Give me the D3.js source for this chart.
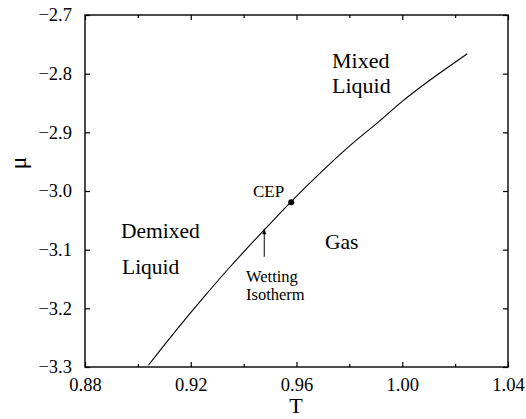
<!DOCTYPE html>
<html>
<head>
<meta charset="utf-8">
<script src="https://cdn.jsdelivr.net/npm/d3@7"></script>
</head>
<body style="margin:0;background:#fff">
<svg id="chart" width="526" height="419" style="display:block"></svg>
<script>
// ---- data ----
const temperature = [0.904, 0.915, 0.925, 0.935, 0.9456, 0.958, 0.970, 0.980, 0.9916, 1.000, 1.010, 1.0246];
const chemicalPotential = [-3.297, -3.2347, -3.1806, -3.1287, -3.077, -3.018, -2.965, -2.9236, -2.880, -2.8473, -2.8126, -2.766];
const cepPoint = [0.958, -3.019];
const wettingArrow = [0.9478, -3.112, -3.0636]; // T, mu start, mu tip
const xTicks = [0.88, 0.92, 0.96, 1.00, 1.04];
const xMinorTicks = [0.90, 0.94, 0.98, 1.02];
const yTicks = [-2.7, -2.8, -2.9, -3.0, -3.1, -3.2, -3.3];

// ---- layout ----
const L = 85, R = 508, T = 15, B = 367;
const svg = d3.select("#chart");
const x = d3.scaleLinear().domain([0.88, 1.04]).range([L, R]);
const y = d3.scaleLinear().domain([-3.3, -2.7]).range([B, T]);

const fmtX = d3.format(".2f");
const fmtY = d3.format(".1f");
const serif = '"Liberation Serif"';

// bottom axis
const gB = svg.append("g").attr("transform", `translate(0,${B})`)
  .call(d3.axisBottom(x).tickValues(xTicks).tickSizeInner(-5).tickSizeOuter(0).tickPadding(11).tickFormat(fmtX));
const gBm = svg.append("g").attr("transform", `translate(0,${B})`)
  .call(d3.axisBottom(x).tickValues(xMinorTicks).tickSizeInner(-3).tickSizeOuter(0).tickFormat(""));
// top axis
const gT = svg.append("g").attr("transform", `translate(0,${T})`)
  .call(d3.axisTop(x).tickValues(xTicks).tickSizeInner(-5).tickSizeOuter(0).tickFormat(""));
const gTm = svg.append("g").attr("transform", `translate(0,${T})`)
  .call(d3.axisTop(x).tickValues(xMinorTicks).tickSizeInner(-3).tickSizeOuter(0).tickFormat(""));
// left axis
const gL = svg.append("g").attr("transform", `translate(${L},0)`)
  .call(d3.axisLeft(y).tickValues(yTicks).tickSizeInner(-5).tickSizeOuter(0).tickPadding(13).tickFormat(fmtY));
// right axis
const gR = svg.append("g").attr("transform", `translate(${R},0)`)
  .call(d3.axisRight(y).tickValues(yTicks).tickSizeInner(-5).tickSizeOuter(0).tickFormat(""));

[gB, gBm, gT, gTm, gL, gR].forEach(g => {
  g.select(".domain").remove();
  g.selectAll(".tick line").attr("stroke", "#000").attr("stroke-width", 1.2);
  g.selectAll(".tick text").attr("fill", "#000")
    .style("font-family", serif).style("font-size", "18.5px");
});
gB.selectAll(".tick text").attr("dy", "0.71em");

// frame
svg.append("rect").attr("x", L).attr("y", T).attr("width", R - L).attr("height", B - T)
  .attr("fill", "none").attr("stroke", "#000").attr("stroke-width", 1.4);

// curve
const pts = temperature.map((t, i) => [t, chemicalPotential[i]]);
svg.append("path").datum(pts)
  .attr("d", d3.line().x(d => x(d[0])).y(d => y(d[1])).curve(d3.curveCatmullRom))
  .attr("fill", "none").attr("stroke", "#000").attr("stroke-width", 1.1);

// CEP point
svg.append("circle").attr("cx", x(cepPoint[0])).attr("cy", y(cepPoint[1])).attr("r", 3).attr("fill", "#000");

// wetting arrow
const ax = x(wettingArrow[0]), ay0 = y(wettingArrow[1]), ay1 = y(wettingArrow[2]);
svg.append("line").attr("x1", ax).attr("x2", ax).attr("y1", ay0).attr("y2", ay1 + 4)
  .attr("stroke", "#000").attr("stroke-width", 1);
svg.append("path").attr("d", `M${ax},${ay1} L${ax - 2},${ay1 + 6} L${ax + 2},${ay1 + 6} Z`).attr("fill", "#000");

// labels
function label(txt, px, py, size, anchor) {
  svg.append("text").attr("x", px).attr("y", py).attr("text-anchor", anchor || "start")
    .attr("fill", "#000").style("font-family", serif).style("font-size", size + "px").text(txt);
}
label("Mixed", 332, 68, 22);
label("Liquid", 332, 93, 22);
label("Demixed", 121, 238, 21.5);
label("Liquid", 122, 274, 21.5);
label("Gas", 325, 249, 21.5);
label("CEP", 253, 197, 17);
label("Wetting", 246, 282, 16.5);
label("Isotherm", 246, 300, 16.5);

// axis titles
svg.append("text").attr("x", (L + R) / 2 - 0.5).attr("y", 413).attr("text-anchor", "middle")
  .style("font-family", serif).style("font-size", "22px").text("T");
svg.append("text").attr("transform", "translate(26,163) rotate(-90)").attr("text-anchor", "middle")
  .style("font-family", serif).style("font-size", "24px").text("μ");
</script>
</body>
</html>
